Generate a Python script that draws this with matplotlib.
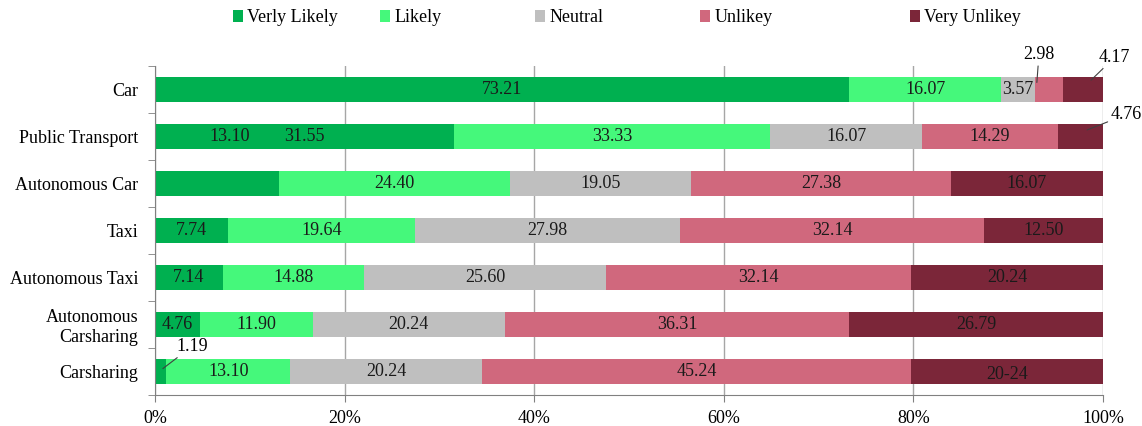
import matplotlib.pyplot as plt
from matplotlib.patches import Patch
from matplotlib.ticker import FixedLocator

plt.rcParams["font.family"] = ["Liberation Serif", "DejaVu Serif"]

categories = ["Car", "Public Transport", "Autonomous Car", "Taxi",
              "Autonomous Taxi", "Autonomous\nCarsharing", "Carsharing"]
verly_likely = [73.21, 31.55, 13.10, 7.74, 7.14, 4.76, 1.19]
likely = [16.07, 33.33, 24.40, 19.64, 14.88, 11.90, 13.10]
neutral = [3.57, 16.07, 19.05, 27.98, 25.60, 20.24, 20.24]
unlikely = [2.98, 14.29, 27.38, 32.14, 32.14, 36.31, 45.24]
very_unlikely = [4.17, 4.76, 16.07, 12.50, 20.24, 26.79, 20.24]

series_names = ["Verly Likely", "Likely", "Neutral", "Unlikey", "Very Unlikey"]
series = [verly_likely, likely, neutral, unlikely, very_unlikely]
colors = ["#00B050", "#45F87B", "#BFBFBF", "#D0687D", "#7B2639"]

# labels drawn outside the bar with a leader line: (row, series) -> (x offset in bar %, y in row units, text dx, dy in points)
callouts = {
    (0, 3): (0.06, -0.15, 1.5, 20),
    (0, 4): (0.70, -0.20, 17, 16.5),
    (1, 4): (0.65, -0.14, 28, 11),
    (6, 0): (0.70, -0.06, 21, 16),
}
# label of Autonomous Car "Verly Likely" sits in the Public Transport bar in the original
moved = {(2, 0): (7.9, 1)}
text_override = {(6, 4): "20-24"}
FS = 13

fig = plt.figure(figsize=(11.42, 4.26), dpi=100)
ax = fig.add_axes([0.1357, 0.073, 0.8301, 0.772])

y = list(range(len(categories)))
left = [0.0] * len(categories)
for s, (name, vals, col) in enumerate(zip(series_names, series, colors)):
    ax.barh(y, vals, left=left, height=0.53, color=col, label=name, zorder=2)
    for i, v in enumerate(vals):
        txt = text_override.get((i, s), f"{v:.2f}")
        if (i, s) in callouts:
            fx, dy_row, dx, dy = callouts[(i, s)]
            ax.annotate(txt, xy=(left[i] + v * fx, i + dy_row), xytext=(dx, dy),
                        textcoords="offset points", ha="center", va="center",
                        fontsize=FS, arrowprops=dict(arrowstyle="-", color="#404040", lw=0.8,
                                                     shrinkA=0, shrinkB=0))
        elif (i, s) in moved:
            mx, my = moved[(i, s)]
            ax.text(mx, my, txt, ha="center", va="center", fontsize=FS, color="#1a1a1a", zorder=3)
        else:
            yoff = 0.07 if (i, s) in text_override else 0
            ax.text(left[i] + v / 2, i + yoff, txt, ha="center", va="center",
                    fontsize=FS, color="#1a1a1a", zorder=3)
        left[i] += v

ax.set_xlim(0, 100)
ax.set_ylim(len(categories) - 0.5, -0.5)
ax.set_xticks(range(0, 101, 20))
ax.set_xticklabels([f"{t}%" for t in range(0, 101, 20)], fontsize=FS)
ax.set_yticks(y)
ax.set_yticklabels(categories, fontsize=FS)
ax.yaxis.set_minor_locator(FixedLocator([k - 0.5 for k in range(len(categories) + 1)]))
ax.tick_params(axis="y", which="major", length=0, pad=12)
ax.tick_params(axis="y", which="minor", length=5, color="#808080")
ax.tick_params(axis="x", length=5, color="#808080", pad=6)
ax.xaxis.grid(True, color="#A6A6A6", linewidth=1)
ax.set_axisbelow(True)
for sp in ["top", "right"]:
    ax.spines[sp].set_visible(False)
for sp in ["left", "bottom"]:
    ax.spines[sp].set_color("#808080")

legend_x = [233, 380, 535, 700, 910]
for name, col, lx in zip(series_names, colors, legend_x):
    fig.legend(handles=[Patch(facecolor=col)], labels=[name], loc="center left",
               bbox_to_anchor=(lx / 1142, 1 - 18 / 426), frameon=False, fontsize=FS,
               handlelength=0.55, handleheight=0.6, handletextpad=0.25, borderpad=0,
               borderaxespad=0)

fig.savefig("out.png", dpi=100)
